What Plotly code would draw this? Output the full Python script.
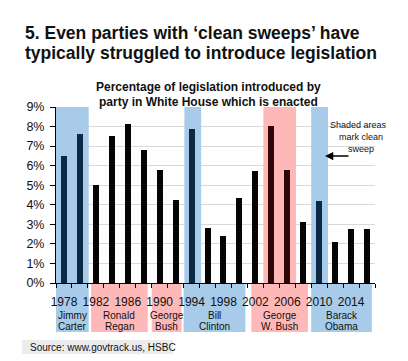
import plotly.graph_objects as go

# ---- data ----
years = [1978, 1980, 1982, 1984, 1986, 1988, 1990, 1992, 1994, 1996,
         1998, 2000, 2002, 2004, 2006, 2008, 2010, 2012, 2014, 2016]
pct_enacted = [6.5, 7.6, 5.0, 7.5, 8.15, 6.8, 5.8, 4.25, 7.85, 2.8,
               2.4, 4.35, 5.75, 8.05, 5.8, 3.1, 4.2, 2.1, 2.75, 2.75]
sweep = ["D", "D", "", "", "", "", "", "", "D", "",
         "", "", "", "R", "R", "", "D", "", "", ""]
tick_years = [1978, 1982, 1986, 1990, 1994, 1998, 2002, 2006, 2010, 2014]
y_ticks = [0, 1, 2, 3, 4, 5, 6, 7, 8, 9]

presidents = [("Jimmy", "Carter"), ("Ronald", "Regan"), ("George", "Bush"),
              ("Bill", "Clinton"), ("George", "W. Bush"), ("Barack", "Obama")]
pres_party = ["D", "R", "R", "D", "R", "D"]
pres_span = [(1977, 1981.1), (1981.4, 1988.5), (1989, 1992.75),
             (1993, 2000.75), (2001.5, 2008.6), (2009, 2016.6)]
sweep_span = [(1977, 1981.1, "D"), (1993.1, 1995.2, "D"),
              (2003, 2007.1, "R"), (2009, 2011.1, "D")]

# ---- styles ----
W, H = 408, 361
ML, MR, MT, MB = 56, 33, 107, 78
PW, PH = W - ML - MR, H - MT - MB
SANS = "Liberation Sans, Arial, sans-serif"
BLUE, PINK = "#a7cbe8", "#ffb8b8"
bar_col = {"D": "#0b2944", "R": "#2e0708", "": "#050505"}
band_col = {"D": BLUE, "R": PINK}


def px(x):
    return (x - ML) / PW


def py(y):
    return (MT + PH - y) / PH


fig = go.Figure()
fig.add_trace(go.Bar(
    x=years, y=pct_enacted, width=0.75,
    marker=dict(color=[bar_col[s] for s in sweep], line=dict(width=0)),
    hoverinfo="x+y"))

shapes = []
for x0, x1, p in sweep_span:
    shapes.append(dict(type="rect", xref="x", yref="y", x0=x0, x1=x1, y0=0, y1=9,
                       fillcolor=band_col[p], line=dict(width=0), layer="between"))
for (x0, x1), p in zip(pres_span, pres_party):
    shapes.append(dict(type="rect", xref="x", yref="paper", x0=x0, x1=x1,
                       y0=py(284), y1=py(332), fillcolor=band_col[p],
                       line=dict(width=0), layer="between"))
shapes.append(dict(type="rect", xref="paper", yref="paper", x0=px(22), x1=px(173),
                   y0=py(354), y1=py(340), fillcolor="#ececec", line=dict(width=0),
                   layer="below"))

ann = []
ann.append(dict(text="<b>5. Even parties with ‘clean sweeps’ have</b>", x=px(23), y=py(33),
                xanchor="left", yanchor="middle", font=dict(family=SANS, size=17.5, color="#111")))
ann.append(dict(text="<b>typically struggled to introduce legislation</b>", x=px(23), y=py(52.5),
                xanchor="left", yanchor="middle", font=dict(family=SANS, size=17.5, color="#111")))
ann.append(dict(text="<b>Percentage of legislation introduced by</b>", x=px(208.5), y=py(86.5),
                xanchor="center", yanchor="middle", font=dict(family=SANS, size=12, color="#111")))
ann.append(dict(text="<b>party in White House which is enacted</b>", x=px(208.5), y=py(102),
                xanchor="center", yanchor="middle", font=dict(family=SANS, size=12, color="#111")))
for (l1, l2), (x0, x1) in zip(presidents, pres_span):
    xc = (x0 + x1) / 2
    for txt, yy in ((l1, 315), (l2, 326.5)):
        ann.append(dict(text=txt, x=xc, xref="x", y=py(yy), xanchor="center", yanchor="middle",
                        font=dict(family=SANS, size=10, color="#111")))
for txt, xx, yy in (("Shaded areas", 358, 124.5), ("mark clean", 361, 136.5), ("sweep", 361, 149)):
    ann.append(dict(text=txt, x=px(xx), y=py(yy), xanchor="center", yanchor="middle",
                    font=dict(family=SANS, size=9, color="#111")))
ann.append(dict(text="", x=px(325), y=py(156), ax=25, ay=0, showarrow=True,
                arrowhead=2, arrowsize=1.1, arrowwidth=1.5, arrowcolor="#000"))
ann.append(dict(text="Source: www.govtrack.us, HSBC", x=px(28), y=py(347), xanchor="left",
                yanchor="middle", font=dict(family=SANS, size=10, color="#111")))
for a in ann:
    a.setdefault("xref", "paper")
    a.setdefault("yref", "paper")
    a.setdefault("showarrow", False)

fig.update_layout(
    width=W, height=H, margin=dict(l=ML, r=MR, t=MT, b=MB, pad=0),
    paper_bgcolor="white", plot_bgcolor="white", showlegend=False,
    shapes=shapes, annotations=ann, bargap=0,
    xaxis=dict(range=[1977, 2017], tickvals=tick_years, ticktext=[str(t) for t in tick_years],
               ticks="", ticklabelstandoff=8, showgrid=False, zeroline=False, tickangle=0,
               showline=True, linecolor="#000", linewidth=1,
               tickfont=dict(family=SANS, size=12, color="#111"),
               minor=dict(ticks="outside", tick0=1977, dtick=2, ticklen=4,
                          tickcolor="#000", tickwidth=1, showgrid=False)),
    yaxis=dict(range=[0, 9], tickvals=y_ticks, ticktext=[f"{v}%" for v in y_ticks],
               ticks="outside", ticklen=5, tickcolor="#000", ticklabelstandoff=3,
               showgrid=True, gridcolor="#d9d9d9", gridwidth=1, zeroline=False,
               showline=True, linecolor="#000", linewidth=1,
               tickfont=dict(family=SANS, size=12.5, color="#111")),
)

fig.write_html("out.html", config={"displayModeBar": False},
               post_script="document.body.style.margin='0';document.body.style.overflow='hidden';")
